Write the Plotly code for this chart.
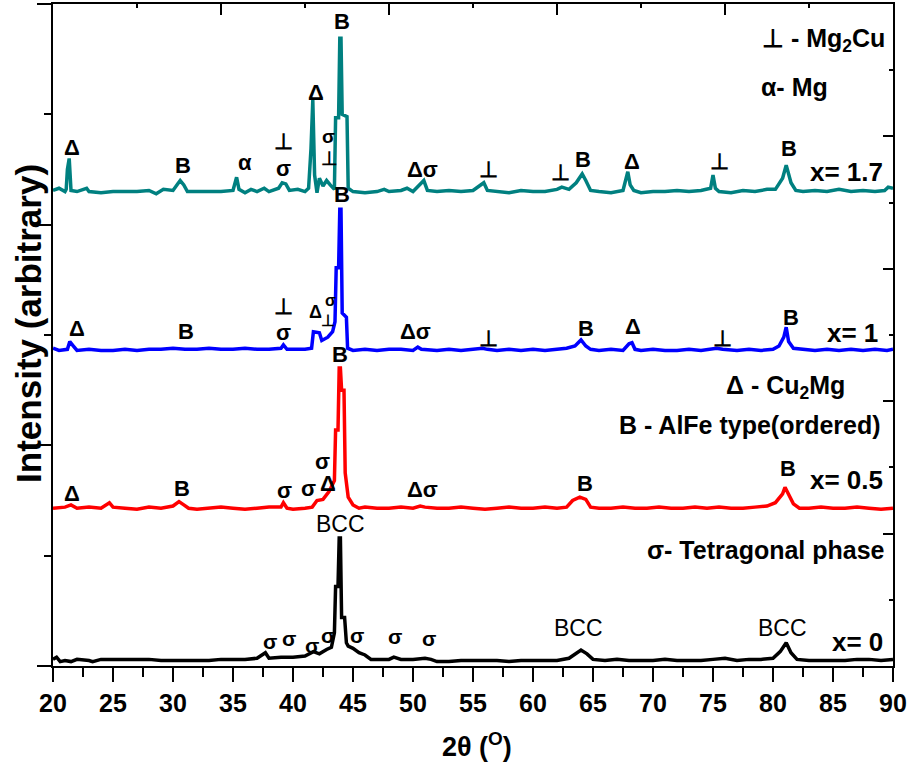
import plotly.graph_objects as go

# ---------------- data (2theta in degrees, stacked intensity in arbitrary units) -------------
x17 = [20.0, 20.5, 21.0, 21.1, 21.2, 21.35, 21.5, 22.0, 22.8, 23.0, 24.0, 25.0, 26.0, 27.0, 28.0, 28.6,
       29.2, 30.0, 30.4, 30.6, 30.9, 31.2, 32.0, 33.0, 34.0, 35.0, 35.3, 35.5, 36.0, 36.5, 37.0, 37.6,
       38.0, 38.8, 39.1, 39.4, 39.7, 40.4, 41.0, 41.3, 41.5, 41.65, 41.8, 42.0, 42.2, 42.5, 42.8, 43.1,
       43.45, 43.55, 43.8, 43.9, 44.0, 44.1, 44.5, 44.6, 45.0, 46.0, 47.0, 47.6, 48.0, 49.0, 49.5, 50.0,
       50.6, 50.9, 51.2, 52.0, 53.0, 54.0, 55.0, 55.9, 56.2, 57.0, 58.0, 59.0, 60.0, 61.0, 62.0, 62.4,
       63.0, 63.6, 64.1, 64.4, 64.8, 65.5, 66.5, 67.5, 67.9, 68.1, 68.4, 69.0, 70.0, 71.0, 72.0, 73.0,
       74.0, 74.8, 75.0, 75.2, 75.5, 76.5, 77.5, 78.5, 79.5, 80.2, 80.8, 81.1, 81.5, 81.9, 82.5, 83.5,
       84.5, 85.5, 86.5, 87.5, 88.5, 89.3, 89.6, 90.0]
y17 = [4.31, 4.33, 4.30, 4.32, 4.50, 4.60, 4.31, 4.30, 4.33, 4.30, 4.29, 4.30, 4.30, 4.30, 4.31, 4.28,
       4.32, 4.31, 4.37, 4.40, 4.36, 4.30, 4.30, 4.30, 4.30, 4.31, 4.43, 4.32, 4.29, 4.32, 4.30, 4.33,
       4.30, 4.33, 4.38, 4.37, 4.31, 4.32, 4.30, 4.33, 4.69, 5.13, 4.45, 4.29, 4.42, 4.35, 4.40, 4.36,
       4.32, 4.97, 4.97, 5.69, 5.69, 5.00, 4.98, 4.33, 4.30, 4.29, 4.30, 4.32, 4.30, 4.31, 4.33, 4.30,
       4.36, 4.40, 4.31, 4.30, 4.31, 4.30, 4.31, 4.38, 4.31, 4.30, 4.29, 4.31, 4.30, 4.30, 4.32, 4.34,
       4.32, 4.38, 4.46, 4.40, 4.31, 4.30, 4.29, 4.31, 4.48, 4.36, 4.31, 4.29, 4.30, 4.30, 4.31, 4.30,
       4.31, 4.33, 4.45, 4.33, 4.30, 4.29, 4.31, 4.30, 4.32, 4.32, 4.42, 4.54, 4.38, 4.31, 4.30, 4.31,
       4.30, 4.32, 4.30, 4.31, 4.30, 4.31, 4.34, 4.33]

x10 = [20.0, 20.5, 21.2, 21.4, 21.7, 22.0, 23.0, 24.0, 25.0, 26.0, 27.0, 28.0, 29.0, 30.0, 31.0, 32.0,
       33.0, 34.0, 35.0, 36.0, 37.0, 38.0, 39.0, 39.2, 39.5, 40.0, 41.0, 41.55, 41.7, 42.2, 42.4, 42.9,
       43.3, 43.5, 43.6, 43.8, 43.9, 44.0, 44.1, 44.45, 44.55, 45.0, 46.0, 47.0, 48.0, 49.0, 50.0, 50.4,
       50.7, 52.0, 53.0, 54.0, 55.0, 55.8, 56.2, 57.0, 58.0, 59.0, 60.0, 61.0, 62.0, 62.8, 63.5, 64.0,
       64.4, 64.8, 65.5, 66.5, 67.5, 68.0, 68.25, 68.5, 69.0, 70.0, 71.0, 72.0, 73.0, 74.0, 75.3, 75.8,
       77.0, 78.0, 79.0, 80.0, 80.5, 80.9, 81.1, 81.3, 81.7, 82.5, 83.5, 84.5, 85.5, 86.5, 87.5, 88.5,
       89.5, 90.0]
y10 = [2.88, 2.86, 2.87, 2.94, 2.90, 2.86, 2.87, 2.86, 2.86, 2.87, 2.86, 2.87, 2.87, 2.88, 2.87, 2.87,
       2.88, 2.87, 2.87, 2.88, 2.87, 2.87, 2.88, 2.91, 2.87, 2.87, 2.87, 2.88, 3.03, 3.02, 2.95, 2.98,
       3.03, 3.12, 3.61, 3.61, 4.14, 4.14, 3.20, 3.16, 2.88, 2.86, 2.87, 2.86, 2.87, 2.87, 2.86, 2.89,
       2.87, 2.86, 2.87, 2.86, 2.87, 2.88, 2.87, 2.86, 2.87, 2.86, 2.87, 2.86, 2.87, 2.88, 2.90, 2.955,
       2.90, 2.87, 2.86, 2.87, 2.86, 2.92, 2.93, 2.87, 2.86, 2.87, 2.86, 2.86, 2.87, 2.86, 2.88, 2.87,
       2.86, 2.87, 2.86, 2.87, 2.90, 2.98, 3.07, 2.94, 2.88, 2.87, 2.86, 2.87, 2.86, 2.87, 2.86, 2.87,
       2.86, 2.87]

x05 = [20.0, 21.0, 21.5, 22.0, 23.0, 24.0, 24.7, 25.0, 26.0, 27.0, 28.0, 29.0, 30.0, 30.5, 30.9, 31.3,
       32.0, 33.0, 34.0, 35.0, 36.0, 37.0, 38.0, 39.0, 39.2, 39.5, 40.0, 41.0, 41.6, 42.0, 42.5, 43.0,
       43.45, 43.55, 43.75, 43.85, 43.95, 44.05, 44.25, 44.35, 44.6, 45.0, 45.5, 46.0, 47.0, 48.0, 49.0,
       50.0, 50.6, 51.0, 52.0, 53.0, 54.0, 55.0, 56.0, 57.0, 58.0, 59.0, 60.0, 61.0, 62.0, 62.8, 63.3,
       63.9, 64.4, 64.8, 65.5, 66.5, 67.5, 68.5, 69.5, 70.5, 71.5, 72.5, 73.5, 74.5, 75.5, 76.5, 77.5,
       78.5, 79.5, 80.2, 80.8, 81.0, 81.3, 81.7, 82.2, 83.0, 84.0, 85.0, 86.0, 87.0, 88.0, 89.0, 90.0]
y05 = [1.43, 1.44, 1.46, 1.43, 1.44, 1.43, 1.48, 1.44, 1.43, 1.42, 1.44, 1.43, 1.45, 1.49, 1.46, 1.43,
       1.42, 1.43, 1.44, 1.43, 1.42, 1.43, 1.44, 1.44, 1.48, 1.43, 1.42, 1.43, 1.44, 1.50, 1.51, 1.58,
       1.68, 2.14, 2.14, 2.70, 2.70, 2.50, 2.50, 1.75, 1.53, 1.46, 1.43, 1.44, 1.43, 1.43, 1.44,
       1.43, 1.45, 1.44, 1.43, 1.43, 1.44, 1.43, 1.42, 1.43, 1.44, 1.43, 1.43, 1.44, 1.43, 1.44, 1.50,
       1.53, 1.51, 1.44, 1.43, 1.43, 1.44, 1.43, 1.43, 1.44, 1.43, 1.43, 1.44, 1.43, 1.44, 1.43, 1.43,
       1.44, 1.45, 1.48, 1.56, 1.62, 1.56, 1.47, 1.43, 1.43, 1.44, 1.43, 1.43, 1.44, 1.43, 1.42, 1.43]

x00 = [20.0, 20.3, 20.6, 21.0, 21.5, 22.0, 23.0, 23.3, 24.0, 25.0, 26.0, 27.0, 28.0, 29.0, 30.0, 31.0,
       32.0, 33.0, 34.0, 35.0, 36.0, 37.0, 37.7, 38.0, 39.0, 40.0, 41.0, 41.7, 42.2, 42.8, 43.2, 43.45,
       43.55, 43.75, 43.85, 43.95, 44.05, 44.3, 44.45, 44.6, 45.0, 45.5, 46.0, 46.5, 47.0, 48.0, 48.4,
       49.0, 50.0, 51.0, 51.5, 52.0, 53.0, 54.0, 55.0, 56.0, 57.0, 58.0, 59.0, 60.0, 61.0, 62.0, 63.0,
       63.5, 64.0, 64.5, 65.0, 66.0, 67.0, 68.0, 69.0, 70.0, 71.0, 72.0, 73.0, 74.0, 75.0, 76.0, 77.0,
       78.0, 79.0, 80.0, 80.6, 81.1, 81.5, 82.0, 83.0, 84.0, 85.0, 86.0, 87.0, 88.0, 89.0, 90.0]
y00 = [0.06, 0.08, 0.04, 0.05, 0.04, 0.06, 0.05, 0.04, 0.06, 0.06, 0.06, 0.06, 0.06, 0.05, 0.05, 0.05,
       0.05, 0.05, 0.06, 0.06, 0.06, 0.07, 0.12, 0.07, 0.08, 0.08, 0.09, 0.13, 0.11, 0.15, 0.17, 0.30,
       0.72, 0.72, 1.16, 1.16, 0.44, 0.44, 0.21, 0.18, 0.16, 0.12, 0.10, 0.06, 0.06, 0.06, 0.08,
       0.06, 0.06, 0.07, 0.06, 0.04, 0.04, 0.05, 0.05, 0.05, 0.05, 0.04, 0.05, 0.05, 0.05, 0.05, 0.07,
       0.11, 0.145, 0.11, 0.06, 0.05, 0.06, 0.05, 0.05, 0.05, 0.06, 0.05, 0.05, 0.05, 0.06, 0.07, 0.05,
       0.06, 0.06, 0.07, 0.13, 0.21, 0.12, 0.06, 0.05, 0.05, 0.05, 0.05, 0.06, 0.06, 0.05, 0.06]

series_names = ["x= 1.7", "x= 1", "x= 0.5", "x= 0"]
series_colors = ["#008080", "#0000ff", "#ff0000", "#000000"]

# peak labels: (text, 2theta, height, font size)
labels_17 = [("Δ", 21.58, 4.70, 22), ("B", 30.83, 4.54, 22), ("α", 36.0, 4.56, 22), ("⊥", 39.17, 4.75, 22),
             ("σ", 39.17, 4.51, 22), ("Δ", 41.92, 5.20, 22), ("σ", 42.92, 4.80, 19), ("⊥", 43.0, 4.60, 19),
             ("B", 44.08, 5.84, 22), ("Δσ", 50.83, 4.50, 22), ("⊥", 56.25, 4.50, 22), ("⊥", 62.25, 4.47, 22),
             ("B", 64.17, 4.59, 22), ("Δ", 68.25, 4.57, 22), ("⊥", 75.58, 4.57, 22), ("B", 81.33, 4.69, 22)]
labels_10 = [("Δ", 22.0, 3.06, 22), ("B", 31.08, 3.03, 22), ("⊥", 39.17, 3.26, 22), ("σ", 39.17, 3.02, 22),
             ("Δ", 41.85, 3.21, 18), ("σ", 43.1, 3.31, 16), ("⊥", 42.92, 3.13, 16), ("B", 44.08, 4.27, 22),
             ("Δσ", 50.17, 3.03, 22), ("⊥", 56.33, 2.97, 22), ("B", 64.42, 3.06, 22), ("Δ", 68.33, 3.08, 22),
             ("⊥", 75.75, 2.97, 22), ("B", 81.5, 3.16, 22)]
labels_05 = [("Δ", 21.58, 1.56, 22), ("B", 30.75, 1.61, 22), ("σ", 39.25, 1.59, 22), ("σ", 41.25, 1.61, 22),
             ("Δ", 42.92, 1.65, 22), ("σ", 42.42, 1.85, 22), ("B", 43.92, 2.82, 22), ("Δσ", 50.83, 1.60, 22),
             ("B", 64.33, 1.65, 22), ("B", 81.25, 1.79, 22)]
labels_00_sigma = [(38.08, 0.22), (39.67, 0.25), (41.6, 0.19), (42.9, 0.28), (45.33, 0.28),
                   (48.5, 0.27), (51.33, 0.25)]
labels_00_bcc = [(43.92, 1.29), (63.75, 0.34), (80.75, 0.34)]
series_label_y = [4.48, 3.02, 1.69, 0.22]
series_label_x = [89.33, 88.92, 89.33, 89.33]

legend_texts = [("⊥ - Mg<sub>2</sub>Cu", 89.5, 5.67), ("α- Mg", 84.75, 5.25),
                ("Δ - Cu<sub>2</sub>Mg", 86.2, 2.53), ("B - AlFe type(ordered)", 89.17, 2.18),
                ("σ- Tetragonal phase", 89.5, 1.05)]

# ---------------- figure -------------
FONT = "Liberation Sans, Arial, sans-serif"
fig = go.Figure()
for xs, ys, col in zip([x17, x10, x05, x00], [y17, y10, y05, y00], series_colors):
    fig.add_trace(go.Scatter(x=xs, y=ys, mode="lines", line=dict(color=col, width=3.5),
                             showlegend=False, hoverinfo="skip"))
# helper trace for the mirrored top / right axes
fig.add_trace(go.Scatter(x=[20, 90], y=[0, 10], xaxis="x2", yaxis="y2", mode="markers",
                         marker=dict(opacity=0), showlegend=False, hoverinfo="skip"))

ann = []
def lab(text, x, y, size=22, bold=True, xanchor="center"):
    ann.append(dict(text=text, x=x, y=y, xref="x", yref="y", showarrow=False,
                    xanchor=xanchor, yanchor="middle",
                    font=dict(family=FONT, size=size, color="black",
                              weight="bold" if bold else "normal")))

for group in (labels_17, labels_10, labels_05):
    for t, x, y, s in group:
        lab(t, x, y, size=s)
for x, y in labels_00_sigma:
    lab("σ", x, y, size=21)
for x, y in labels_00_bcc:
    lab("BCC", x, y, size=23, bold=False)
for name, x, y in zip(series_names, series_label_x, series_label_y):
    lab(name, x, y, size=26, xanchor="right")
for t, x, y in legend_texts:
    lab(t, x, y, size=25, xanchor="right")

ann.append(dict(text="Intensity (arbitrary)", x=-0.03, y=0.518, xref="paper", yref="paper",
                textangle=-90, showarrow=False, xanchor="center", yanchor="middle",
                font=dict(family=FONT, size=35, color="black", weight="bold")))
ann.append(dict(text="2θ (<sup>O</sup>)", x=0.505, y=-0.12, xref="paper", yref="paper",
                showarrow=False, xanchor="center", yanchor="middle",
                font=dict(family=FONT, size=27, color="black", weight="bold")))

axis_common = dict(showline=True, linewidth=2, linecolor="black", showgrid=False, zeroline=False,
                   tickcolor="black", tickwidth=2)
fig.update_layout(
    width=912, height=769, margin=dict(l=53, r=19, t=4, b=103),
    plot_bgcolor="white", paper_bgcolor="white",
    annotations=ann,
    xaxis=dict(range=[20, 90], tick0=20, dtick=5, ticks="outside", ticklen=14,
               tickfont=dict(family=FONT, size=25, color="black", weight="bold"),
               minor=dict(tick0=20, dtick=2.5, ticks="outside", ticklen=9, tickwidth=2, tickcolor="black"),
               **axis_common),
    yaxis=dict(range=[0, 6], tick0=0, dtick=2, ticks="outside", ticklen=14, showticklabels=False,
               minor=dict(tick0=0, dtick=1, ticks="outside", ticklen=7, tickwidth=2, tickcolor="black"),
               **axis_common),
    xaxis2=dict(range=[20, 90], overlaying="x", side="top", tick0=20, dtick=14, ticks="inside",
                ticklen=11, showticklabels=False,
                minor=dict(tick0=20, dtick=7, ticks="inside", ticklen=4, tickwidth=2, tickcolor="black"),
                **axis_common),
    yaxis2=dict(range=[0, 10], overlaying="y", side="right", tick0=0, dtick=2, ticks="inside",
                ticklen=10, showticklabels=False,
                minor=dict(tick0=0, dtick=1, ticks="inside", ticklen=4, tickwidth=2, tickcolor="black"),
                **axis_common),
)
fig.write_html("out.html")
